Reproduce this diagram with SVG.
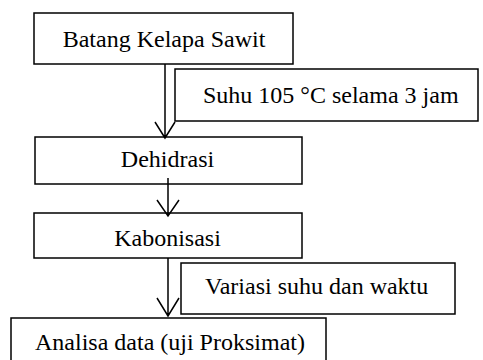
<svg xmlns="http://www.w3.org/2000/svg" width="483" height="360" viewBox="0 0 483 360">
<style>
.box{fill:#fff;stroke:#000;stroke-width:1.5}
.t{font-family:"Liberation Serif","Times New Roman",serif;font-size:24px;fill:#000}
.c{text-anchor:middle}
.ln{fill:none;stroke:#000;stroke-width:1.5}
</style>
<rect width="483" height="360" fill="#fff"/>
<g id="n1"><rect class="box" x="34" y="13" width="259" height="51"/><text class="t c" x="164" y="47">Batang Kelapa Sawit</text></g>
<g id="n2"><rect class="box" x="35" y="137" width="267" height="47"/><text class="t c" x="167.5" y="167">Dehidrasi</text></g>
<g id="n3"><rect class="box" x="34" y="213" width="268" height="45"/><text class="t c" x="167.5" y="246">Kabonisasi</text></g>
<g id="n4"><rect class="box" x="11" y="318" width="315" height="60"/><text class="t" x="35" y="350">Analisa data (uji Proksimat)</text></g>
<g id="l1"><rect class="box" x="175" y="69" width="303" height="52"/><text class="t" x="203" y="103">Suhu 105 °C selama 3 jam</text></g>
<g id="l2"><rect class="box" x="181" y="263" width="274" height="51"/><text class="t" x="205" y="294">Variasi suhu dan waktu</text></g>
<g id="connectors">
<path class="ln" d="M165 64V138M155 122L165 138L175 122"/>
<path class="ln" d="M168 178V216M157 200L168 216L179 200"/>
<path class="ln" d="M168 258V316M157 298L168 316L179 298"/>
</g>
</svg>
